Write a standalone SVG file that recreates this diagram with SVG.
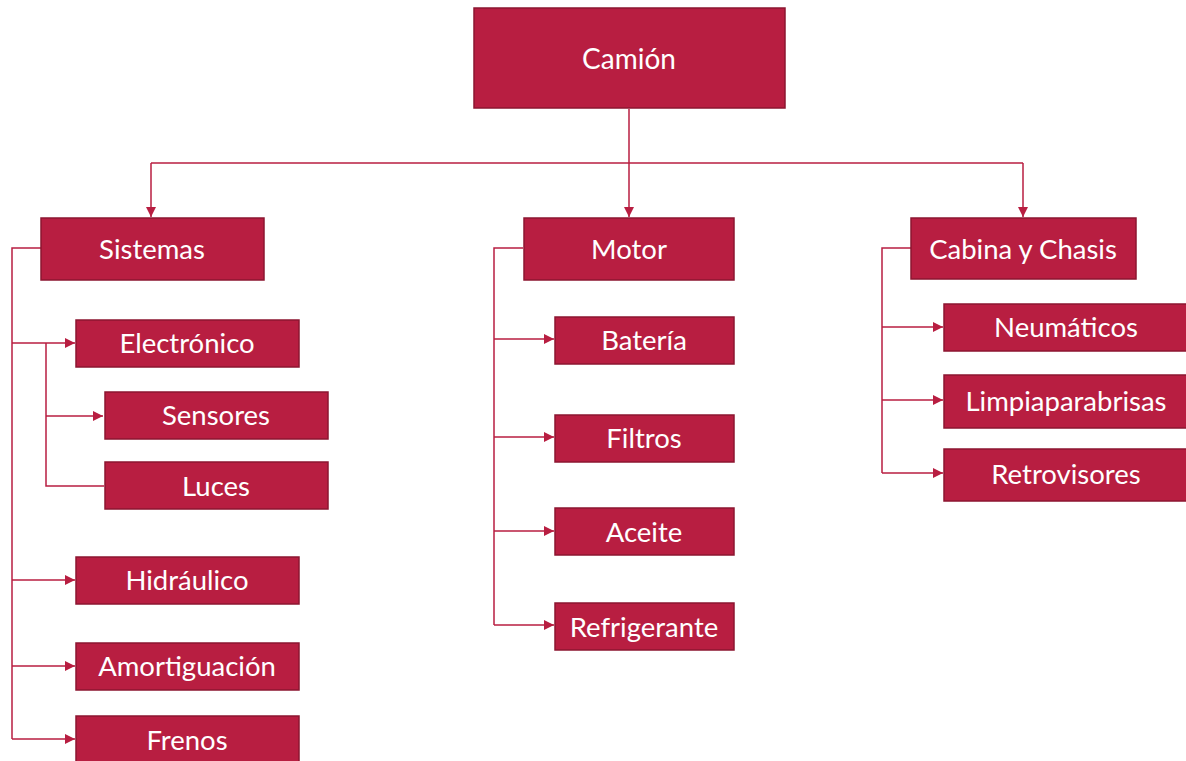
<svg xmlns="http://www.w3.org/2000/svg" width="1186" height="761" viewBox="0 0 1186 761">
<defs>
<marker id="ah" viewBox="0 0 10 10" refX="10" refY="5" markerWidth="10" markerHeight="10" markerUnits="userSpaceOnUse" orient="auto">
<path d="M0,0 L10,5 L0,10 z" fill="#B81E41"/>
</marker>
<style>
.box{fill:#B81E41;stroke:#8C1631;stroke-width:1.5}
.lbl{fill:#fff;font-family:Lato,"Open Sans",sans-serif;font-size:27.5px;text-anchor:middle}
.big{font-size:28px}
.c{fill:none;stroke:#B81E41;stroke-width:1.5}
.a{marker-end:url(#ah)}
</style>
</defs>
<rect width="1186" height="761" fill="#fff"/>
<g id="connectors">
<path class="c a" d="M629,109 V217"/>
<path class="c" d="M151,163 H1023"/>
<path class="c a" d="M151,163 V217"/>
<path class="c a" d="M1023,163 V217"/>
<path class="c" d="M41,248 H12 V739"/>
<path class="c a" d="M12,343 H75"/>
<path class="c a" d="M12,580 H75"/>
<path class="c a" d="M12,666 H75"/>
<path class="c a" d="M12,739 H75"/>
<path class="c" d="M46,343 V486 H104"/>
<path class="c a" d="M46,416 H103"/>
<path class="c" d="M523,248 H494 V625"/>
<path class="c a" d="M494,339 H554"/>
<path class="c a" d="M494,437 H554"/>
<path class="c a" d="M494,531 H554"/>
<path class="c a" d="M494,625 H554"/>
<path class="c" d="M911,248 H882 V473"/>
<path class="c a" d="M882,327 H943"/>
<path class="c a" d="M882,400 H943"/>
<path class="c a" d="M882,473 H943"/>
</g>
<g id="camion"><rect class="box" x="474" y="8" width="311" height="100"/><text class="lbl big" x="629" y="69">Camión</text></g>
<g id="sistemas"><rect class="box" x="41" y="218" width="223" height="62"/><text class="lbl" x="152" y="259">Sistemas</text></g>
<g id="motor"><rect class="box" x="524" y="218" width="210" height="62"/><text class="lbl" x="629" y="259">Motor</text></g>
<g id="cabina"><rect class="box" x="911" y="218" width="225" height="61"/><text class="lbl" x="1023" y="259">Cabina y Chasis</text></g>
<g id="electronico"><rect class="box" x="76" y="320" width="223" height="47"/><text class="lbl" x="187" y="353">Electrónico</text></g>
<g id="sensores"><rect class="box" x="105" y="392" width="223" height="47"/><text class="lbl" x="216" y="425">Sensores</text></g>
<g id="luces"><rect class="box" x="105" y="462" width="223" height="47"/><text class="lbl" x="216" y="496">Luces</text></g>
<g id="hidraulico"><rect class="box" x="76" y="557" width="223" height="47"/><text class="lbl" x="187" y="590">Hidráulico</text></g>
<g id="amortiguacion"><rect class="box" x="76" y="643" width="223" height="47"/><text class="lbl" x="187" y="676">Amortiguación</text></g>
<g id="frenos"><rect class="box" x="76" y="716" width="223" height="50"/><text class="lbl" x="187" y="750">Frenos</text></g>
<g id="bateria"><rect class="box" x="555" y="317" width="179" height="47"/><text class="lbl" x="644" y="350">Batería</text></g>
<g id="filtros"><rect class="box" x="555" y="415" width="179" height="47"/><text class="lbl" x="644" y="448">Filtros</text></g>
<g id="aceite"><rect class="box" x="555" y="508" width="179" height="47"/><text class="lbl" x="644" y="542">Aceite</text></g>
<g id="refrigerante"><rect class="box" x="555" y="603" width="179" height="47"/><text class="lbl" x="644" y="637">Refrigerante</text></g>
<g id="neumaticos"><rect class="box" x="944" y="304" width="246" height="47"/><text class="lbl" x="1066" y="337">Neumáticos</text></g>
<g id="limpiaparabrisas"><rect class="box" x="944" y="375" width="246" height="53"/><text class="lbl" x="1066" y="411">Limpiaparabrisas</text></g>
<g id="retrovisores"><rect class="box" x="944" y="449" width="246" height="52"/><text class="lbl" x="1066" y="484">Retrovisores</text></g>
</svg>
